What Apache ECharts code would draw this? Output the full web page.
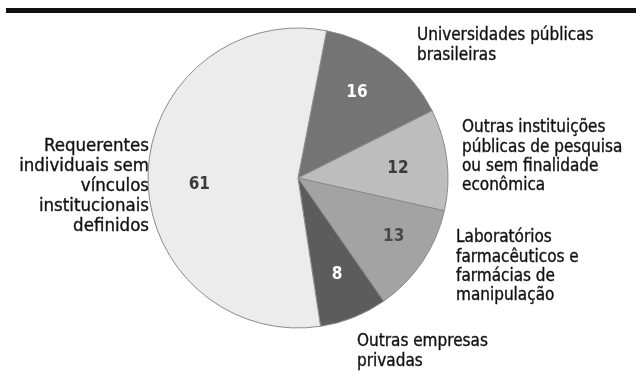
<!DOCTYPE html>
<html>
<head>
<meta charset="utf-8">
<script src="https://cdn.jsdelivr.net/npm/echarts@6/dist/echarts.min.js"></script>
<style>
  html, body { margin: 0; padding: 0; background: #ffffff; }
  #chart { width: 636px; height: 383px; }
</style>
</head>
<body>
<div id="chart"></div>
<script>
// Depositantes por tipo de instituição
const categories = [
  'Universidades públicas brasileiras',
  'Outras instituições públicas de pesquisa ou sem finalidade econômica',
  'Laboratórios farmacêuticos e farmácias de manipulação',
  'Outras empresas privadas',
  'Requerentes individuais sem vínculos institucionais definidos'
];
const values = [16, 12, 13, 8, 61];
const sliceColors = ['#747474', '#bdbdbd', '#a3a3a3', '#5c5c5c', '#ececec'];
const valueColors = ['#ffffff', '#3a3a3a', '#4a4a4a', '#ffffff', '#3a3a3a'];

// Category captions, broken into lines as printed
const captionLines = [
  ['Universidades públicas', 'brasileiras'],
  ['Outras instituições', 'públicas de pesquisa', 'ou sem finalidade', 'econômica'],
  ['Laboratórios', 'farmacêuticos e', 'farmácias de', 'manipulação'],
  ['Outras empresas', 'privadas'],
  ['Requerentes', 'individuais sem', 'vínculos', 'institucionais', 'definidos']
];

const FONT = '"Liberation Sans Narrow", "DejaVu Sans Condensed", "Roboto", sans-serif';
const CENTER = [298, 178];
const RADIUS = 150;
const START = 79;

const captionPos = [
  { x: 417, y: 26, align: 'left', size: 17, lh: 19.4 },
  { x: 462, y: 118, align: 'left', size: 17, lh: 19.4 },
  { x: 456, y: 228, align: 'left', size: 17, lh: 19.4 },
  { x: 357, y: 332, align: 'left', size: 17, lh: 19.4 },
  { x: 149, y: 136, align: 'right', size: 18.5, lh: 20 }
];

// small nudges of the value numbers off the slice bisector
const valueOffsets = [[-5, -1], [-5, 3], [8, 0], [0, -2], [7, 9]];

const chart = echarts.init(document.getElementById('chart'), null, { renderer: 'canvas' });

const pieData = categories.map((name, i) => ({
  name, value: values[i], itemStyle: { color: sliceColors[i] }
}));

const labelData = categories.map((name, i) => ({
  name, value: values[i],
  label: { color: valueColors[i] }
}));

const graphics = [
  { type: 'rect', shape: { x: 6, y: 8, width: 630, height: 5 }, style: { fill: '#111111' } }
];
captionLines.forEach((lines, i) => {
  const p = captionPos[i];
  graphics.push({
    type: 'text',
    x: p.x, y: p.y,
    style: {
      text: lines.join('\n'),
      font: p.size + 'px ' + FONT,
      fill: '#111111',
      stroke: '#111111',
      lineWidth: 0.35,
      textAlign: p.align,
      textVerticalAlign: 'top',
      lineHeight: p.lh
    }
  });
});

chart.setOption({
  animation: false,
  graphic: graphics,
  series: [
    {
      type: 'pie',
      center: CENTER,
      radius: [0, RADIUS],
      startAngle: START,
      clockwise: true,
      silent: true,
      label: { show: false },
      labelLine: { show: false },
      itemStyle: { borderColor: '#8a8a8a', borderWidth: 1 },
      data: pieData
    },
    {
      // transparent twin ring that places the value numbers at ~2/3 radius
      type: 'pie',
      center: CENTER,
      radius: [0, RADIUS * 1.37],
      startAngle: START,
      clockwise: true,
      silent: true,
      itemStyle: { color: 'rgba(0,0,0,0)' },
      label: {
        show: true,
        position: 'inside',
        formatter: '{c}',
        fontFamily: FONT,
        fontSize: 17,
        fontWeight: 'bold'
      },
      labelLayout: function (params) {
        const off = valueOffsets[params.dataIndex];
        return { dx: off[0], dy: off[1] };
      },
      labelLine: { show: false },
      data: labelData
    }
  ]
});
</script>
</body>
</html>
